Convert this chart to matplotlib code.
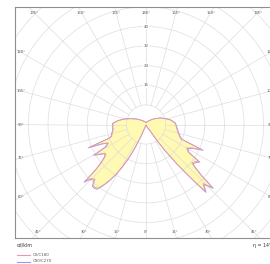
import numpy as np
import matplotlib
matplotlib.use("Agg")
import matplotlib.pyplot as plt
from matplotlib.lines import Line2D

# ---------------- data (cd/klm) ----------------
# C0 plane (drawn on the right), gamma from nadir
gamma_c0 = [0, 20, 30, 33, 34.5, 36, 38, 39.5, 40.5, 41.5, 44, 46.5, 47.5, 49, 50,
            52.5, 55, 57, 60, 63, 65.7, 67.5, 70, 75, 81, 87, 93, 101, 108, 115,
            125, 135, 150, 165, 180]
int_c0 = [0.3, 0.8, 2, 3.5, 8, 13, 20, 26, 31, 36.4, 33.5, 37.3, 30, 26, 24.4,
          25, 26.1, 20.5, 19.2, 21, 24.9, 15.5, 14.6, 13.6, 12.8, 12.3, 11.8, 10, 8, 6.3,
          4, 2.6, 1.5, 1.0, 0.8]
# C180 plane (drawn on the left)
gamma_c180 = [0, 15, 20, 23, 25, 27, 29, 31, 33, 35, 37, 39, 41, 43, 45.5, 47, 48, 49,
              51, 53, 55, 57, 59.5, 61, 64, 66, 68, 69.5, 71, 76, 81, 86, 92, 98, 104,
              110, 120, 132, 150, 165, 180]
int_c180 = [0.3, 0.5, 1.5, 5, 10, 15, 19.5, 23.5, 27, 30, 32.6, 33, 33, 30.5, 31.5, 34,
            27.5, 25, 22, 20.5, 20.4, 22, 24.2, 18.5, 17.1, 19, 24.9, 16, 14.8, 14.2,
            13.5, 13.6, 13.4, 11.4, 9.2, 6.9, 4.5, 2.6, 1.5, 1.0, 0.8]
# C90 / C270 planes (nearly identical)
int_c90 = [0.3, 0.8, 2, 3.6, 8.2, 13.3, 20.4, 26.5, 31.6, 37.0, 34.0, 37.9, 30.6, 26.6, 25.0,
           25.6, 26.8, 21.0, 19.7, 21.6, 25.6, 16.0, 15.0, 13.9, 13.0, 12.5, 12.0, 10.2, 8.1, 6.4,
           4.1, 2.6, 1.5, 1.0, 0.8]
int_c270 = [0.3, 0.5, 1.5, 5.1, 10.2, 15.3, 19.8, 23.9, 27.4, 30.5, 33.1, 33.5, 33.4, 31.0,
            32.0, 34.6, 28.0, 25.4, 22.4, 20.9, 20.8, 22.5, 24.8, 18.9, 17.5, 19.5, 25.5, 16.4,
            15.1, 14.4, 13.7, 13.8, 13.6, 11.6, 9.3, 7.0, 4.6, 2.6, 1.5, 1.0, 0.8]

ring_values = [16, 24, 32, 40]
ring_grid = [8, 16, 24, 32, 40, 48, 56, 64, 72]
angle_ticks = list(range(0, 181, 15))
legend_labels = ["C0/C180", "C90/C270"]
unit_label = "cd/klm"
eta_label = "η = 14%"

# ---------------- styling / layout ----------------
W, H = 270, 264
fig = plt.figure(figsize=(W / 100, H / 100), dpi=100)
x0, y0 = 146, 124.5
ppu = 2.45
left_px, right_px, top_px, bot_px = 15, 277, 7, 238
ax = fig.add_axes([left_px / W, 1 - bot_px / H, (right_px - left_px) / W, (bot_px - top_px) / H])
xl, xr = (left_px - x0) / ppu, (right_px - x0) / ppu
yt, yb = (y0 - top_px) / ppu, -(bot_px - y0) / ppu
ax.set_xlim(xl, xr)
ax.set_ylim(yb, yt)
ax.set_xticks([])
ax.set_yticks([])
for s in ax.spines.values():
    s.set_color("#8f8f8f")
    s.set_linewidth(0.8)

pink = "#e99aa8"
blue = "#9a9ae8"
fill_col = "#fff9b2"
grid_col = "#dedede"
txt_col = "#555555"


def outline(g_right, r_right, g_left, r_left):
    gr = np.radians(np.asarray(g_right, float))
    gl = np.radians(np.asarray(g_left, float))[::-1]
    rr = np.asarray(r_right, float)
    rl = np.asarray(r_left, float)[::-1]
    x = np.concatenate([rr * np.sin(gr), -rl * np.sin(gl)])
    y = np.concatenate([-rr * np.cos(gr), -rl * np.cos(gl)])
    return x, y


xa, ya = outline(gamma_c0, int_c0, gamma_c180, int_c180)
xb, yb2 = outline(gamma_c0, int_c90, gamma_c180, int_c270)
ax.fill(xb, yb2, color=fill_col, lw=0, zorder=1)
ax.fill(xa, ya, color=fill_col, lw=0, zorder=1)

# grid
th = np.linspace(0, 2 * np.pi, 500)
for r in ring_grid:
    ax.plot(r * np.cos(th), r * np.sin(th), color=grid_col, lw=0.5, zorder=2)
for a in range(0, 360, 15):
    t = np.radians(a)
    ax.plot([8 * np.cos(t), 120 * np.cos(t)], [8 * np.sin(t), 120 * np.sin(t)],
            color=grid_col, lw=0.5, zorder=2)

ax.plot(np.append(xb, xb[0]), np.append(yb2, yb2[0]), color=blue, lw=0.6, zorder=3)
ax.plot(np.append(xa, xa[0]), np.append(ya, ya[0]), color=pink, lw=0.6, zorder=4)

for r in ring_values:
    ax.text(0, r, str(r), ha="center", va="center", fontsize=2.8, color=txt_col, zorder=5,
            bbox=dict(fc="white", ec="none", pad=0.2))

d = 2.3
for g in angle_ticks:
    sides = [1] if g in (0, 180) else [1, -1]
    for side in sides:
        sx = side * np.sin(np.radians(g))
        sy = -np.cos(np.radians(g))
        cand = []
        if sx > 1e-9:
            cand.append((xr - d) / sx)
        elif sx < -1e-9:
            cand.append((xl + d) / sx)
        if sy > 1e-9:
            cand.append((yt - d) / sy)
        elif sy < -1e-9:
            cand.append((yb + d) / sy)
        t = min(cand)
        ax.text(t * sx, t * sy, f"{g}°", ha="center", va="center", fontsize=2.7,
                color=txt_col, zorder=5, clip_on=False)

fig.text(17 / W, 1 - 245 / H, unit_label, fontsize=3.4, color="#333333", ha="left", va="center")
fig.text(253 / W, 1 - 245 / H, eta_label, fontsize=3.4, color="#333333", ha="left", va="center")

for i, (lab, col) in enumerate(zip(legend_labels, [pink, blue])):
    yy = 1 - (255 + 6.5 * i) / H
    fig.add_artist(Line2D([17 / W, 30 / W], [yy, yy], color=col, lw=0.8))
    fig.text(33 / W, yy, lab, fontsize=2.8, color=txt_col, ha="left", va="center")

fig.savefig("out.png", dpi=100)
